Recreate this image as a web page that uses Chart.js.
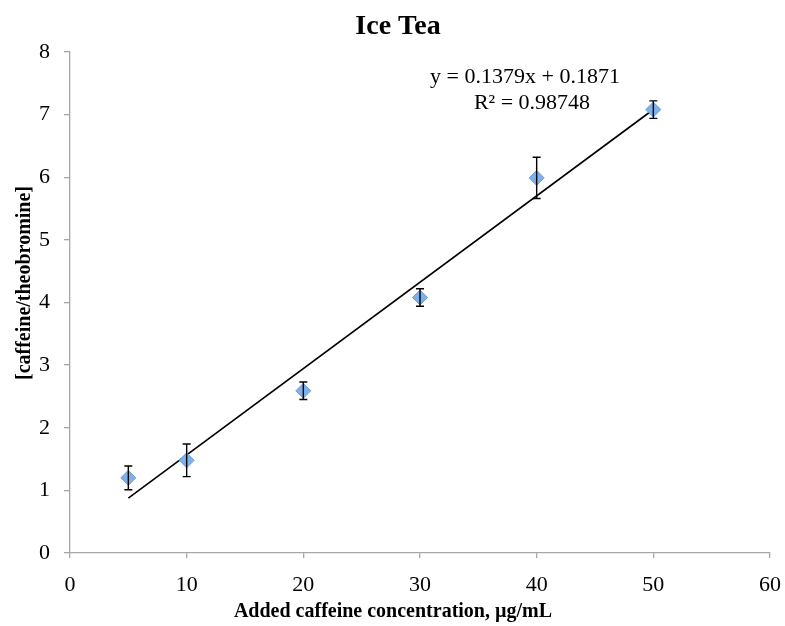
<!DOCTYPE html>
<html>
<head>
<meta charset="utf-8">
<script src="https://cdn.jsdelivr.net/npm/chart.js@4/dist/chart.umd.min.js"></script>
<style>
  html, body { margin: 0; padding: 0; background: #fff; }
  #wrap { width: 785px; height: 626px; }
</style>
</head>
<body>
<div id="wrap"><canvas id="chart"></canvas></div>
<script>
  const addedConc = [5, 10, 20, 30, 40, 50];
  const ratio = [1.2, 1.48, 2.59, 4.08, 5.99, 7.08];
  const ratioErr = [0.19, 0.26, 0.14, 0.14, 0.33, 0.14];
  const trendX = [5, 50];
  const trendY = [0.877, 7.082];
  const xTicks = [0, 10, 20, 30, 40, 50, 60];
  const yTicks = [0, 1, 2, 3, 4, 5, 6, 7, 8];

  const serif = '"Liberation Serif", "Times New Roman", serif';
  const axisGray = '#a6a6a6';

  const errorBars = {
    id: 'errorBars',
    afterDatasetsDraw(chart) {
      const ctx = chart.ctx;
      const xs = chart.scales.x, ys = chart.scales.y;
      ctx.save();
      ctx.strokeStyle = '#000';
      ctx.lineWidth = 1.4;
      addedConc.forEach((x, i) => {
        const px = xs.getPixelForValue(x);
        const top = ys.getPixelForValue(ratio[i] + ratioErr[i]);
        const bot = ys.getPixelForValue(ratio[i] - ratioErr[i]);
        ctx.beginPath();
        ctx.moveTo(px, top); ctx.lineTo(px, bot);
        ctx.moveTo(px - 4, top); ctx.lineTo(px + 4, top);
        ctx.moveTo(px - 4, bot); ctx.lineTo(px + 4, bot);
        ctx.stroke();
      });
      ctx.restore();
    }
  };

  const labels = {
    id: 'labels',
    afterDraw(chart) {
      const ctx = chart.ctx;
      ctx.save();
      ctx.fillStyle = '#000';
      ctx.textAlign = 'center';
      ctx.textBaseline = 'middle';
      ctx.font = 'bold 28px ' + serif;
      ctx.fillText('Ice Tea', 398, 27);
      ctx.font = 'bold 20px ' + serif;
      ctx.fillText('Added caffeine concentration, µg/mL', 393, 612);
      ctx.save();
      ctx.translate(25, 283);
      ctx.rotate(-Math.PI / 2);
      ctx.fillText('[caffeine/theobromine]', 0, 0);
      ctx.restore();
      ctx.font = '22px ' + serif;
      ctx.fillText('y = 0.1379x + 0.1871', 525, 77);
      ctx.fillText('R² = 0.98748', 532, 103);
      ctx.restore();
    }
  };

  new Chart(document.getElementById('chart'), {
    type: 'scatter',
    data: {
      datasets: [
        {
          label: 'Ice Tea',
          data: addedConc.map((x, i) => ({ x: x, y: ratio[i] })),
          pointStyle: 'rectRot',
          pointRadius: 7.5,
          backgroundColor: '#7eb1e9',
          borderColor: '#6a9fdc',
          borderWidth: 1,
          order: 1
        },
        {
          label: 'Linear',
          type: 'line',
          data: trendX.map((x, i) => ({ x: x, y: trendY[i] })),
          borderColor: '#000',
          borderWidth: 1.6,
          pointRadius: 0,
          fill: false,
          order: 2
        }
      ]
    },
    options: {
      responsive: true,
      maintainAspectRatio: false,
      animation: false,
      layout: { padding: { top: 52, right: 15, left: 0, bottom: 0 } },
      plugins: {
        legend: { display: false },
        tooltip: { enabled: false }
      },
      scales: {
        x: {
          type: 'linear',
          min: 0, max: 60,
          afterBuildTicks: s => { s.ticks = xTicks.map(v => ({ value: v })); },
          afterFit: s => { s.height = 73; s.paddingRight = 0; s.paddingLeft = 0; },
          grid: { drawOnChartArea: false, tickLength: 5, tickColor: axisGray, lineWidth: 1.3 },
          border: { color: axisGray, width: 1.3 },
          ticks: { color: '#000', padding: 14, font: { family: serif, size: 22 } }
        },
        y: {
          type: 'linear',
          min: 0, max: 8,
          afterBuildTicks: s => { s.ticks = yTicks.map(v => ({ value: v })); },
          afterFit: s => { s.width = 70; },
          grid: { drawOnChartArea: false, tickLength: 6, tickColor: axisGray, lineWidth: 1.3 },
          border: { color: axisGray, width: 1.3 },
          ticks: { color: '#000', padding: 14, font: { family: serif, size: 22 } }
        }
      }
    },
    plugins: [errorBars, labels]
  });
</script>
</body>
</html>
